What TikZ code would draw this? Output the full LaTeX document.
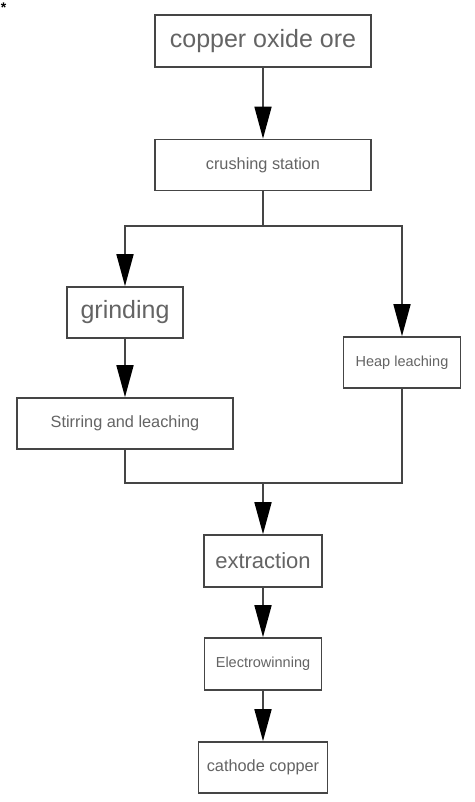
\documentclass[tikz,border=0pt]{standalone}
\usepackage{fontspec}
\setmainfont{Liberation Sans}
\usetikzlibrary{arrows.meta}
\definecolor{linecol}{HTML}{454545}
\definecolor{txtcol}{HTML}{646464}
\begin{document}
\begin{tikzpicture}[x=1pt,y=-1pt,
  box/.style={draw=linecol, line width=1.6pt, fill=white, text=txtcol, inner sep=0pt, anchor=center},
  conn/.style={draw=linecol, line width=1.6pt},
  arr/.style={conn, -{Triangle[length=32pt,width=17pt,color=black]}},
  big/.style={font=\fontsize{25}{30}\selectfont},
  mid/.style={font=\fontsize{22}{26}\selectfont},
  small/.style={font=\fontsize{16.3}{20}\selectfont},
  tiny/.style={font=\fontsize{14.5}{18}\selectfont}]
\useasboundingbox (0,0) rectangle (474,802);
\fill[white] (0,0) rectangle (474,802);
\node[font=\fontsize{14}{14}\selectfont\bfseries, inner sep=0pt] (mark) at (3.5,8) {*};
\node[box, big, minimum width=216pt, minimum height=52pt] (ore) at (263,41) {copper oxide ore\hspace{8pt}};
\node[box, small, minimum width=216pt, minimum height=51pt] (crush) at (263,165) {crushing station\hspace{6pt}};
\node[box, big, minimum width=116pt, minimum height=51pt] (grind) at (125,312.5) {grinding\hspace{5pt}};
\node[box, small, minimum width=216pt, minimum height=51pt] (stir) at (125,423.5) {Stirring and leaching\hspace{13pt}};
\node[box, tiny, minimum width=117pt, minimum height=51pt] (heap) at (402,362.5) {Heap leaching\hspace{4pt}};
\node[box, mid, minimum width=118pt, minimum height=52pt] (extr) at (263,561) {extraction\hspace{7pt}};
\node[box, tiny, minimum width=117pt, minimum height=52pt] (elec) at (263,664) {Electrowinning\hspace{8pt}};
\node[box, small, minimum width=129pt, minimum height=51pt] (cath) at (263,767.5) {cathode copper\hspace{3pt}};
\coordinate (j1) at (263,226);
\coordinate (j2) at (263,483);
\draw[arr] (ore) -- (crush);
\draw[conn] (crush.south) -- (j1);
\draw[arr] (j1) -| (grind.north);
\draw[arr] (j1) -| (heap.north);
\draw[arr] (grind) -- (stir);
\draw[conn] (stir.south) |- (j2) -| (heap.south);
\draw[arr] (j2) -- (extr.north);
\draw[arr] (extr) -- (elec);
\draw[arr] (elec) -- (cath);
\end{tikzpicture}
\end{document}
